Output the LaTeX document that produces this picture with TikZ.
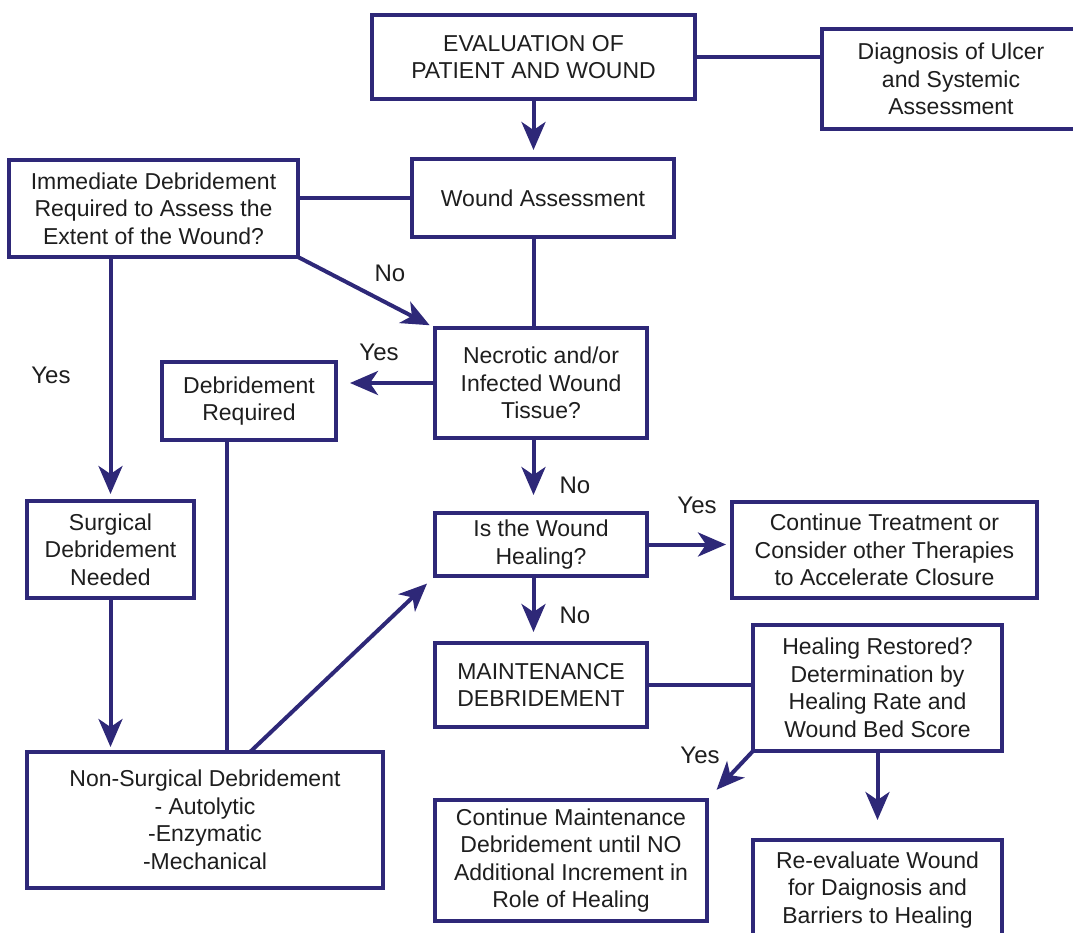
\documentclass[tikz,border=0pt]{standalone}
\usepackage{fontspec}
\setmainfont{Liberation Sans}
\usetikzlibrary{arrows.meta,calc}
\definecolor{flowline}{RGB}{46,40,120}
\definecolor{flowtext}{RGB}{30,30,30}
\begin{document}
\begin{tikzpicture}[x=1pt,y=-1pt,
  box/.style={draw=flowline, line width=4.5pt, fill=white, align=center,
    inner sep=0pt, outer sep=0pt, text=flowtext,
    font=\fontsize{23}{27.5}\selectfont},
  link/.style={draw=flowline, line width=4pt},
  arrow/.style={link, -{Stealth[length=28pt,width=24pt,inset=8pt]}},
  tag/.style={text=flowtext, inner sep=0pt, font=\fontsize{24}{28}\selectfont}]
\useasboundingbox (0,0) rectangle (1073,933);
\clip (0,0) rectangle (1073,933);

% boxes
\node[box, minimum width=323pt, minimum height=84pt] (eval) at (533.5,57)
  {EVALUATION OF\\PATIENT AND WOUND};
\node[box, minimum width=258pt, minimum height=100pt] (diag) at (951,79)
  {Diagnosis of Ulcer\\and Systemic\\Assessment};
\node[box, minimum width=262pt, minimum height=78pt] (wa) at (543,198)
  {Wound Assessment};
\node[box, minimum width=289pt, minimum height=97pt] (imm) at (153.5,208.5)
  {Immediate Debridement\\Required to Assess the\\Extent of the Wound?};
\node[box, minimum width=212pt, minimum height=110pt] (nec) at (541,383)
  {Necrotic and/or\\Infected Wound\\Tissue?};
\node[box, minimum width=174pt, minimum height=78pt] (debr) at (249,401)
  {Debridement\\Required};
\node[box, minimum width=167pt, minimum height=97pt] (surg) at (110.5,549.5)
  {Surgical\\Debridement\\Needed};
\node[box, minimum width=356pt, minimum height=136pt] (ns) at (205,820)
  {Non-Surgical Debridement\\- Autolytic\\-Enzymatic\\-Mechanical};
\node[box, minimum width=212pt, minimum height=63pt] (iwh) at (541,544.5)
  {Is the Wound\\Healing?};
\node[box, minimum width=305pt, minimum height=96pt] (ct) at (884.5,550)
  {Continue Treatment or\\Consider other Therapies\\to Accelerate Closure};
\node[box, minimum width=212pt, minimum height=84pt] (maint) at (541,685)
  {MAINTENANCE\\DEBRIDEMENT};
\node[box, minimum width=249pt, minimum height=126pt] (hr) at (877.5,688)
  {Healing Restored?\\Determination by\\Healing Rate and\\Wound Bed Score};
\node[box, minimum width=272pt, minimum height=121pt] (cm) at (571,860.5)
  {Continue Maintenance\\Debridement until NO\\Additional Increment in\\Role of Healing};
\node[box, minimum width=249pt, minimum height=100pt] (re) at (877.5,890)
  {Re-evaluate Wound\\for Daignosis and\\Barriers to Healing};

% plain connectors
\draw[link] (eval.east) -- (eval.east -| diag.west);
\draw[link] (wa.west -| imm.east) -- (wa.west);
\draw[link] (wa.south -| eval.south) -- (nec.north -| eval.south);
\draw[link] ($(debr.south)+(-22,0)$) -- ($(debr.south |- ns.north)+(-22,0)$);
\draw[link] (maint.east) -- (maint.east -| hr.west);

% arrows
\draw[arrow, shorten >=9pt] (eval.south) -- (wa.north -| eval.south);
\draw[arrow, shorten >=7pt] (imm.south -| surg.north) -- (surg.north);
\draw[arrow, shorten >=6pt] (imm.south east) -- (nec.north west);
\draw[arrow, shorten >=14pt] (nec.west) -- (nec.west -| debr.east);
\draw[arrow, shorten >=18pt] (nec.south -| eval.south) -- (iwh.north -| eval.south);
\draw[arrow, shorten >=5pt] (surg.south) -- (surg.south |- ns.north);
\draw[arrow, shorten >=11pt] ($(ns.north)+(45,0)$) -- (iwh.south west);
\draw[arrow, shorten >=6pt] (iwh.east) -- (iwh.east -| ct.west);
\draw[arrow, shorten >=11pt] (iwh.south -| eval.south) -- (maint.north -| eval.south);
\draw[arrow, shorten >=14pt] (hr.south west) -- (cm.north east);
\draw[arrow, shorten >=20pt] (hr.south) -- (re.north);

% branch labels
\node[tag] (noImm) at (390,273) {No};
\node[tag] (yesImm) at (51,375) {Yes};
\node[tag] (yesNec) at (379,352) {Yes};
\node[tag] (noNec) at (575,485) {No};
\node[tag] (yesIwh) at (697,505) {Yes};
\node[tag] (noIwh) at (575,615) {No};
\node[tag] (yesHr) at (700,755) {Yes};
\end{tikzpicture}
\end{document}
